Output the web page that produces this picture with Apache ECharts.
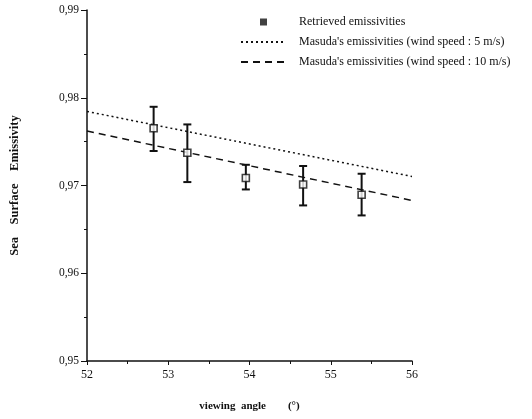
<!DOCTYPE html>
<html>
<head>
    <meta charset="utf-8">
    <style type="text/css">
        html,body { margin: 0px; padding: 0px; background: #fff; }
        #chart { width: 532px; height: 419px; }
    </style>
    <script src="https://cdn.jsdelivr.net/npm/echarts@6/dist/echarts.min.js"></script>
</head>
<body>
    <div id="chart"></div>
    <script type="text/javascript">
        // data
        var angles   = [52.82, 53.235, 53.955, 54.66, 55.38];
        var retrieved = [0.97652, 0.97373, 0.97085, 0.97012, 0.96895];
        var errHigh  = [0.97897, 0.97696, 0.97236, 0.97222, 0.97134];
        var errLow   = [0.97393, 0.97039, 0.96955, 0.96773, 0.96659];
        var lineX    = [52, 56];
        var masuda5  = [0.97844, 0.97103];
        var masuda10 = [0.97620, 0.96830];

        var names = ['Retrieved emissivities',
                     "Masuda's emissivities (wind speed : 5 m/s)",
                     "Masuda's emissivities (wind speed : 10 m/s)"];

        function pairs(xs, ys) {
            return xs.map(function (x, i) { return [x, ys[i]]; });
        }
        function comma(v) { return String(v).replace('.', ','); }

        var serif = 'Liberation Serif';
        var ink = '#111';

        var chart = echarts.init(document.getElementById('chart'));

        var option = {
            animation: false,
            backgroundColor: '#fff',
            grid: { left: 85, right: 120, top: 10, bottom: 58 },
            legend: {
                orient: 'vertical', left: 235, top: 11,
                itemWidth: 45, itemHeight: 7, itemGap: 8,
                symbolKeepAspect: true,
                textStyle: { fontFamily: serif, fontSize: 12, color: ink, padding: [0, 0, 0, 8] },
                data: [
                    { name: names[0], icon: 'path://M0,0h10v10h-10z',
                      itemStyle: { color: ink, borderColor: ink, borderWidth: 0 } },
                    { name: names[1] },
                    { name: names[2] }
                ]
            },
            xAxis: {
                type: 'value', min: 52, max: 56, interval: 1,
                name: 'viewing  angle        (°)', nameLocation: 'middle', nameGap: 40,
                nameTextStyle: { fontFamily: serif, fontWeight: 'bold', fontSize: 11, color: ink },
                axisLine: { lineStyle: { color: ink, width: 1.5 } },
                axisTick: { inside: false, length: 4, lineStyle: { color: ink } },
                minorTick: { show: true, splitNumber: 2, length: 3, lineStyle: { color: ink } },
                axisLabel: { fontFamily: serif, fontSize: 12, color: ink, margin: 8 },
                splitLine: { show: false }
            },
            yAxis: {
                type: 'value', min: 0.95, max: 0.99, interval: 0.01,
                name: 'Sea    Surface    Emissivity', nameLocation: 'middle', nameGap: 66,
                nameTextStyle: { fontFamily: serif, fontWeight: 'bold', fontSize: 12.5, color: ink },
                axisLine: { show: true, lineStyle: { color: ink, width: 1.5 } },
                axisTick: { show: true, length: 6, lineStyle: { color: ink } },
                minorTick: { show: true, splitNumber: 2, length: 3, lineStyle: { color: ink } },
                axisLabel: { fontFamily: serif, fontSize: 11.5, color: ink, margin: 8,
                    formatter: function (v) { return comma(v.toFixed(2)); } },
                splitLine: { show: false }
            },
            series: [
                {
                    name: names[0], type: 'scatter',
                    symbol: 'rect', symbolSize: 7, symbolKeepAspect: true,
                    itemStyle: { color: '#fff', borderColor: ink, borderWidth: 1.6 },
                    data: pairs(angles, retrieved), z: 5
                },
                {
                    name: names[1], type: 'line', symbol: 'none',
                    lineStyle: { color: ink, width: 1.5, type: [2, 3] },
                    itemStyle: { color: 'rgba(0,0,0,0)' },
                    data: pairs(lineX, masuda5)
                },
                {
                    name: names[2], type: 'line', symbol: 'none',
                    lineStyle: { color: ink, width: 1.5, type: [7, 5] },
                    itemStyle: { color: 'rgba(0,0,0,0)' },
                    data: pairs(lineX, masuda10)
                },
                {
                    name: 'error', type: 'custom', z: 4,
                    data: angles.map(function (a, i) { return [a, errLow[i], errHigh[i]]; }),
                    renderItem: function (params, api) {
                        var lo = api.coord([api.value(0), api.value(1)]);
                        var hi = api.coord([api.value(0), api.value(2)]);
                        var w = 4;
                        var st = { stroke: ink, lineWidth: 2 };
                        return {
                            type: 'group',
                            children: [
                                { type: 'line', shape: { x1: lo[0], y1: lo[1], x2: hi[0], y2: hi[1] }, style: st },
                                { type: 'line', shape: { x1: lo[0] - w, y1: lo[1], x2: lo[0] + w, y2: lo[1] }, style: st },
                                { type: 'line', shape: { x1: hi[0] - w, y1: hi[1], x2: hi[0] + w, y2: hi[1] }, style: st }
                            ]
                        };
                    }
                }
            ]
        };

        chart.setOption(option);
    </script>
</body>
</html>
